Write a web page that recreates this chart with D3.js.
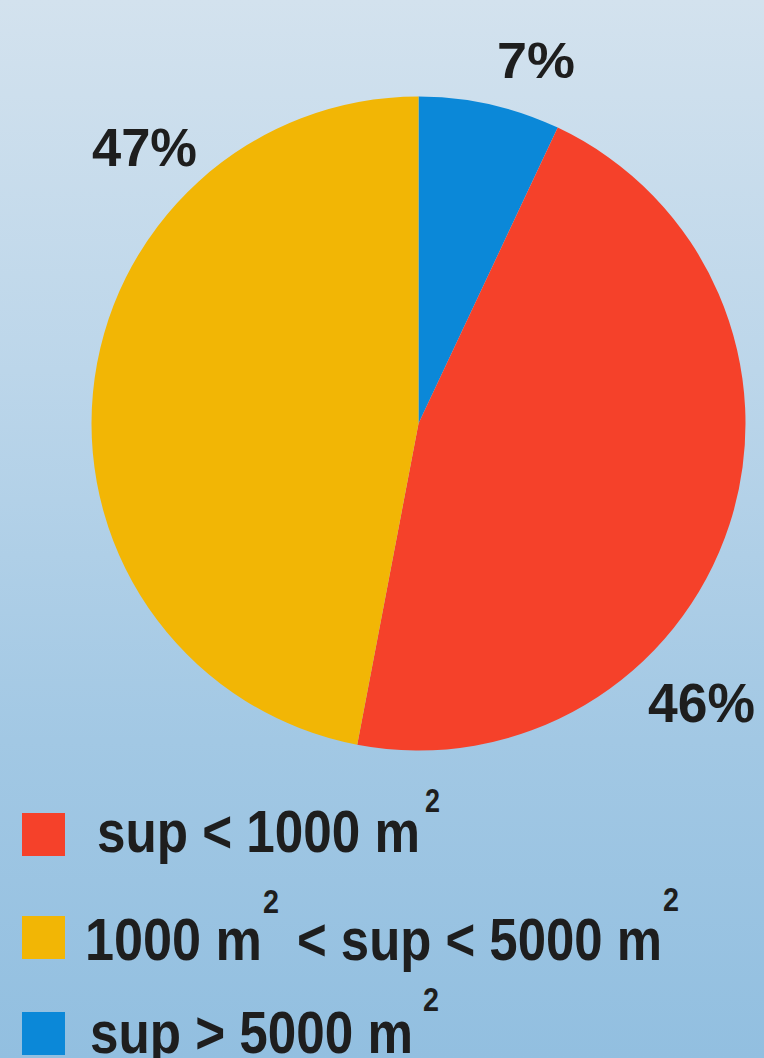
<!DOCTYPE html>
<html>
<head>
<meta charset="utf-8">
<script src="https://cdn.jsdelivr.net/npm/d3@7"></script>
<style>
  html, body { margin: 0; padding: 0; }
  svg { display: block; }
  text { font-family: "Liberation Sans", Arimo, sans-serif; font-weight: bold; fill: #1e1e1e; }
</style>
</head>
<body>
<svg id="chart" width="764" height="1058"></svg>
<script>
// slices, clockwise from 12 o'clock
const categories = ['sup > 5000 m²', 'sup < 1000 m²', '1000 m² < sup < 5000 m²'];
const values = [7, 46, 47];
const colors = ['#0b88d8', '#f5412a', '#f2b605'];
const pct_labels = ['7%', '46%', '47%'];

// legend order as in the picture
const legend_order = [1, 2, 0];

const width = 764, height = 1058;
const cx = 418.5, cy = 423.5, radius = 327;

const svg = d3.select('#chart');

// background gradient
const defs = svg.append('defs');
const grad = defs.append('linearGradient').attr('id', 'bg').attr('x1', 0).attr('y1', 0).attr('x2', 0).attr('y2', 1);
grad.append('stop').attr('offset', '0%').attr('stop-color', '#d3e2ee');
grad.append('stop').attr('offset', '35%').attr('stop-color', '#bcd6ea');
grad.append('stop').attr('offset', '70%').attr('stop-color', '#a2c8e4');
grad.append('stop').attr('offset', '100%').attr('stop-color', '#92bfe0');
svg.append('rect').attr('width', width).attr('height', height).attr('fill', 'url(#bg)');

const pie = d3.pie().sort(null).value(function(d) { return d; });
const arc = d3.arc().innerRadius(0).outerRadius(radius);
const arcs = pie(values);

const g = svg.append('g').attr('transform', 'translate(' + cx + ',' + cy + ')');
g.selectAll('path.slice').data(arcs).enter().append('path')
  .attr('class', 'slice')
  .attr('d', arc)
  .attr('fill', function(d, i) { return colors[i]; });

// percent labels outside the pie
const label_pos = [
  {x: 497, y: 78, w: 78, fs: 50},
  {x: 648, y: 722, w: 107, fs: 56},
  {x: 92, y: 166, w: 105, fs: 54}
];
svg.selectAll('text.pct').data(pct_labels).enter().append('text')
  .attr('class', 'pct')
  .attr('x', function(d, i) { return label_pos[i].x; })
  .attr('y', function(d, i) { return label_pos[i].y; })
  .attr('font-size', function(d, i) { return label_pos[i].fs; })
  .attr('textLength', function(d, i) { return label_pos[i].w; })
  .attr('lengthAdjust', 'spacingAndGlyphs')
  .text(function(d) { return d; });

// legend rows: text pieces and superscript 2s
const legend_rows = [
  {sy: 813, base: 852, parts: [{t: 'sup < 1000 m', x: 97, w: 323}, {t: '2', x: 425, y: 812, w: 15, fs: 33}]},
  {sy: 916, base: 960, parts: [{t: '1000 m', x: 85, w: 177}, {t: '2', x: 263, y: 913, w: 16, fs: 33}, {t: '< sup < 5000 m', x: 297, w: 365}, {t: '2', x: 663, y: 911, w: 16, fs: 33}]},
  {sy: 1012, base: 1053, parts: [{t: 'sup > 5000 m', x: 90, w: 323}, {t: '2', x: 423, y: 1011, w: 16, fs: 33}]}
];
const legend = svg.append('g').attr('class', 'legend');
legend_order.forEach(function(idx, r) {
  const row = legend_rows[r];
  legend.append('rect')
    .attr('x', 22).attr('y', row.sy)
    .attr('width', 43).attr('height', 43)
    .attr('fill', colors[idx]);
  const t = legend.append('text').attr('font-size', 60);
  row.parts.forEach(function(p) {
    t.append('tspan')
      .attr('x', p.x)
      .attr('y', p.y || row.base)
      .attr('font-size', p.fs || 60)
      .attr('textLength', p.w)
      .attr('lengthAdjust', 'spacingAndGlyphs')
      .text(p.t);
  });
});
</script>
</body>
</html>
